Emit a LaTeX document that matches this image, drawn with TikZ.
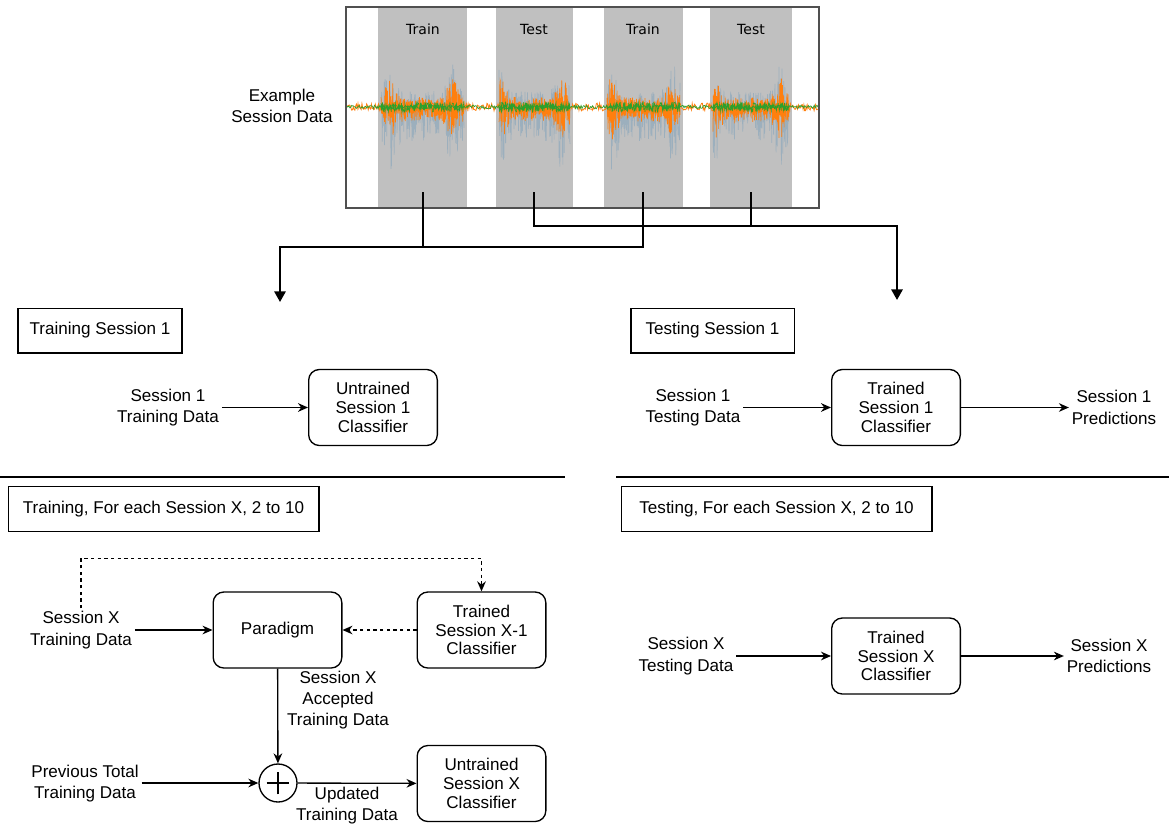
\documentclass[tikz,border=0pt]{standalone}
\usepackage{fontspec}
\setmainfont{Liberation Sans}
\newfontfamily\plotfont{DejaVu Sans}
\usetikzlibrary{arrows.meta}

\definecolor{sigblue}{RGB}{31,119,180}
\definecolor{sigorange}{RGB}{255,127,14}
\definecolor{siggreen}{RGB}{44,160,44}
\definecolor{bandgray}{RGB}{192,192,192}
\definecolor{framegray}{RGB}{80,80,80}

\tikzset{
  box/.style={draw, line width=1pt, minimum height=33.5pt, inner sep=0pt},
  rbox/.style={draw, line width=1pt, rounded corners=8pt, minimum width=96.5pt,
    minimum height=57pt, align=center, inner sep=0pt, font=\fontsize{12.8}{14}\selectfont},
  lbl/.style={align=center, inner sep=2pt},
  flow/.style={line width=1pt, -{Stealth[length=7.5pt,width=6.5pt]}},
  dflow/.style={flow, dash pattern=on 2.5pt off 2.5pt},
  bus/.style={line width=1.6pt},
  sepline/.style={line width=0.8pt},
}

\begin{document}
\begin{tikzpicture}[x=0.75pt,y=-0.75pt,font=\fontsize{12.8}{16}\selectfont,
  declare function={pk(\t,\p,\q)=exp(-min(((\t-\p)^2)/40,9))+exp(-min(((\t-\q)^2)/40,9));}]
\useasboundingbox (0,0) rectangle (1169,831);

% session data plot
\pgfmathsetseed{11}
\foreach \a/\b in {378/467,496/573,604/683,710/792}
  \fill[bandgray] (\a,8) rectangle (\b,207);
\draw[sigorange, line width=.6pt] plot[domain=347:818, samples=600] (\x,{107+4*rand});
\foreach \a/\b/\p/\q in {381/464/390/452,499/570/501/562,607/680/612/673,713/789/714/780}{
  \draw[sigblue, opacity=.22, line width=.5pt] plot[domain=\a:\b, samples=260]
    (\x,{107+(16+28*pk(\x,\p,\q))*min(rand,0)+(34+30*pk(\x,\p,\q))*max(rand,0)});
  \draw[sigorange, line width=.5pt] plot[domain=\a:\b, samples=420]
    (\x,{107+(10+20*pk(\x,\p,\q))*min(rand,0)+(15+18*pk(\x,\p,\q))*max(rand,0)});
  \draw[siggreen, line width=.4pt] plot[domain=\a:\b, samples=220] (\x,{107+5*rand});
}
\draw[siggreen, line width=.5pt] plot[domain=347:818, samples=500] (\x,{107+1.8*rand});
\draw[framegray, line width=.8pt] (346,7) rectangle (819,208);
\foreach \n/\x/\t in {lbtrain1/423/Train,lbtest1/534/Test,lbtrain2/643/Train,lbtest2/751/Test}
  \node[font=\plotfont\fontsize{10.5}{12}\selectfont] (\n) at (\x,29) {\t};
\node[lbl] (example) at (282,106) {Example\\Session Data};

% split into train and test
\coordinate (tk1) at (423,192);
\coordinate (tk2) at (534,192);
\coordinate (tk3) at (643,192);
\coordinate (tk4) at (751,192);
\coordinate (trainjoin) at (280,247);
\coordinate (testjoin) at (897,226);
\coordinate (trainend) at (280,302);
\coordinate (testend) at (897,300);
\draw[bus] (tk1) -- (tk1 |- trainjoin);
\draw[bus,-{Triangle[length=8pt,width=8.5pt]}] (tk3) |- (trainjoin) -- (trainend);
\draw[bus] (tk4) -- (tk4 |- testjoin);
\draw[bus,-{Triangle[length=8pt,width=8.5pt]}] (tk2) |- (testjoin) -- (testend);

% session 1
\node[box, minimum width=123pt] (hdtrain1) at (100,330.5) {Training Session 1};
\node[box, minimum width=122.5pt] (hdtest1) at (712.5,330.5) {Testing Session 1};
\node[lbl] (s1train) at (168,407.5) {Session 1\\Training Data};
\node[rbox] (untrained1) at (373,407.5) {Untrained\\Session 1\\Classifier};
\node[lbl] (s1test) at (693,407.5) {Session 1\\Testing Data};
\node[rbox] (trained1) at (896,407.5) {Trained\\Session 1\\Classifier};
\node[lbl] (s1pred) at (1114,407.5) {Session 1\\Predictions};
\draw[flow] (s1train) -- (untrained1);
\draw[flow] (s1test) -- (trained1);
\draw[flow] (trained1) -- (s1pred);

\draw[sepline] (0,477) -- (565,477);
\draw[sepline] (616,477) -- (1169,477);

% sessions 2 to 10
\node[box, minimum width=233pt] (hdtrainx) at (163.5,509) {Training, For each Session X, 2 to 10};
\node[box, minimum width=233pt] (hdtestx) at (776.5,509) {Testing, For each Session X, 2 to 10};

\node[lbl] (sxtrain) at (81,630) {Session X\\Training Data};
\node[rbox] (paradigm) at (277.5,630) {Paradigm};
\node[rbox] (trainedxm1) at (481.5,630) {Trained\\Session X-1\\Classifier};
\node[draw, circle, line width=1pt, minimum size=28.5pt, inner sep=0pt,
  path picture={
    \draw[line width=.8pt] ([xshift=-8.5pt]path picture bounding box.center) -- ([xshift=8.5pt]path picture bounding box.center);
    \draw[line width=.8pt] ([yshift=-8.5pt]path picture bounding box.center) -- ([yshift=8.5pt]path picture bounding box.center);
  }] (sum) at (278,783) {};
\node[lbl] (accepted) at (338,700) {Session X\\Accepted\\Training Data};
\node[lbl] (prevtotal) at (85,783.5) {Previous Total\\Training Data};
\node[lbl] (updated) at (347,805.5) {Updated\\Training Data};
\node[rbox] (untrainedx) at (481.5,783.5) {Untrained\\Session X\\Classifier};
\draw[flow] (sxtrain) -- (paradigm);
\draw[dflow] (sxtrain.north) -- ++(0,-50) -| (trainedxm1.north);
\draw[dflow] (trainedxm1) -- (paradigm);
\draw[flow] (paradigm) -- (sum);
\draw[flow] (prevtotal.east |- sum) -- (sum);
\draw[flow] (sum) -- (untrainedx);

\node[lbl] (sxtest) at (686,656) {Session X\\Testing Data};
\node[rbox] (trainedx) at (896,656) {Trained\\Session X\\Classifier};
\node[lbl] (sxpred) at (1109,656) {Session X\\Predictions};
\draw[flow] (sxtest) -- (trainedx);
\draw[flow] (trainedx) -- (sxpred);
\end{tikzpicture}
\end{document}
